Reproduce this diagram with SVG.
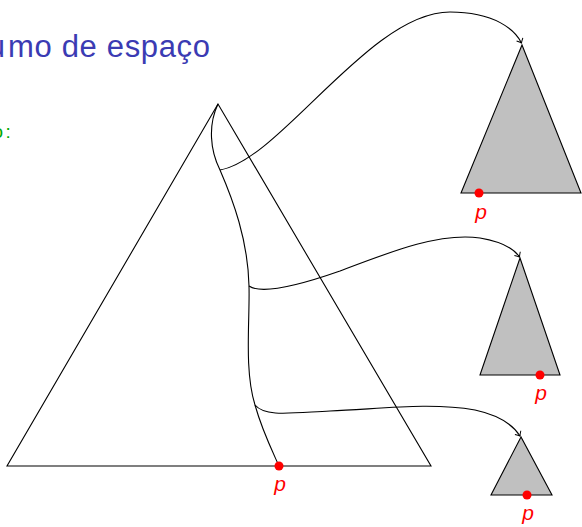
<svg xmlns="http://www.w3.org/2000/svg" width="582" height="527" viewBox="0 0 582 527">
<defs>
<style>
.edge{fill:none;stroke:#000;stroke-width:1.1}
.sub{fill:#c0c0c0;stroke:#000;stroke-width:1.1;stroke-linejoin:miter}
.dot{fill:#ff0000}
.lbl{font-family:"Liberation Sans",Arial,sans-serif;font-style:italic;font-size:21px;fill:#ff0000;text-anchor:middle}
.title{font-family:"Liberation Sans",Arial,sans-serif;font-size:31px;fill:#3b3bb3}
.green{font-family:"Liberation Sans",Arial,sans-serif;font-size:19px;fill:#00a800}
</style>
<marker id="arr" markerWidth="10" markerHeight="10" refX="0" refY="0" viewBox="-5 -5 10 10" orient="auto" markerUnits="userSpaceOnUse">
<path d="M-4,-3.5 Q-1.5,-1 0,0 Q-1.5,1 -4,3.5" fill="none" stroke="#000" stroke-width="1"/>
</marker>
</defs>
<rect width="582" height="527" fill="#fff"/>
<text class="title" x="5" y="57" text-anchor="end">u</text>
<text class="title" x="8" y="57" textLength="202" lengthAdjust="spacing">mo de espaço</text>
<text class="green" x="3" y="138" text-anchor="end">o</text>
<text class="green" x="5.5" y="138">:</text>
<g id="main">
<polygon points="218,104 7,466 431,466" fill="none" stroke="#000" stroke-width="1.1"/>
</g>
<g id="path">
<path class="edge" d="M218,104 C208,125 210,150 220,170 C233,200 248,240 249,286 C250,320 244,370 255,405 C262,430 270,446 279,466"/>
</g>
<g id="t1">
<polygon class="sub" points="522,45 461,193 581,193"/>
<circle class="dot" cx="479" cy="193" r="4.5"/>
<text class="lbl" x="481" y="219">p</text>
</g>
<g id="t2">
<polygon class="sub" points="520,258 480,375 560,375"/>
<circle class="dot" cx="540" cy="375" r="4.5"/>
<text class="lbl" x="541" y="400">p</text>
</g>
<g id="t3">
<polygon class="sub" points="521,437 491,495 552,495"/>
<circle class="dot" cx="527" cy="495" r="4.5"/>
<text class="lbl" x="528" y="520">p</text>
</g>
<g id="pmain">
<circle class="dot" cx="279" cy="466" r="4.5"/>
<text class="lbl" x="280" y="491">p</text>
</g>
<g id="connectors">
<path class="edge" marker-end="url(#arr)" d="M220,170 C280,160 370,12 450,12 C495,12 515,30 521.5,43"/>
<path class="edge" marker-end="url(#arr)" d="M249,286 C262,295 300,285 340,271 C390,252 440,232 480,238 C503,242 515,250 519.5,257"/>
<path class="edge" marker-end="url(#arr)" d="M255,405 C265,417 290,413 330,411 C380,409 430,402 475,410 C498,415 513,425 520,436"/>
</g>
</svg>
